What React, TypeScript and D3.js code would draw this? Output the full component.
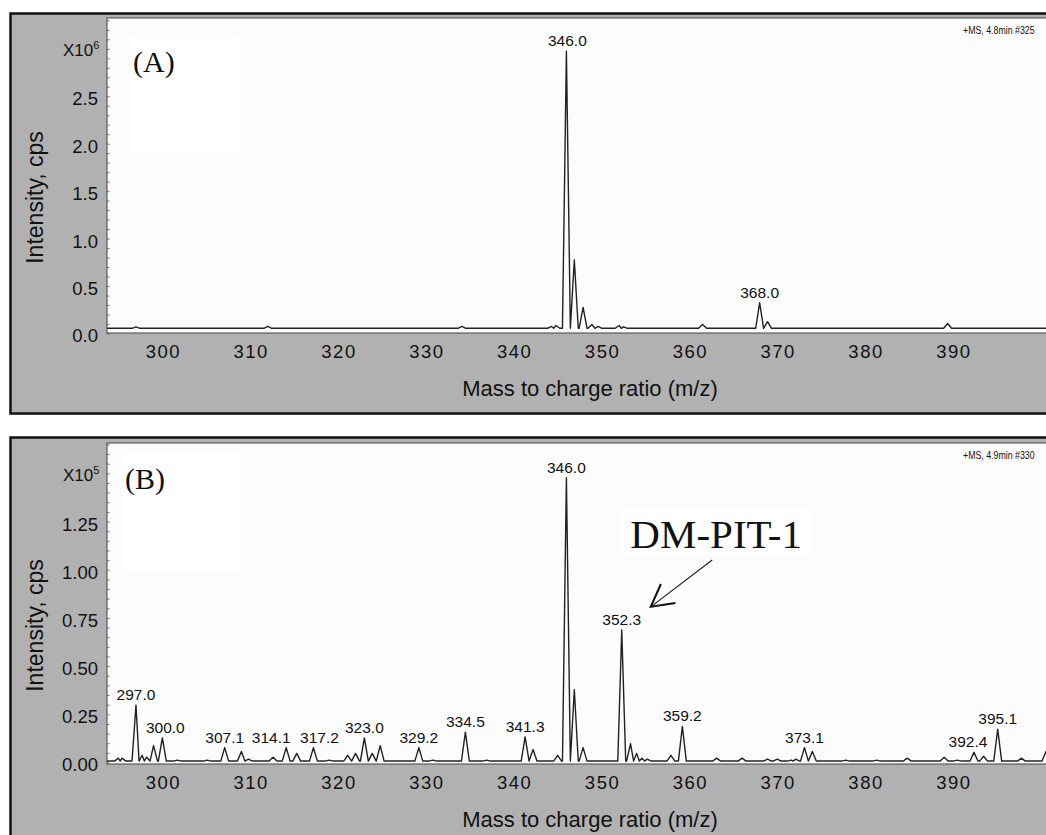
import React from 'react';
import * as d3 from 'd3';

// ---------- data ----------
const xTicks = [300, 310, 320, 330, 340, 350, 360, 370, 380, 390];
const yTicksA = [0, 0.5, 1.0, 1.5, 2.0, 2.5];
const yTicksB = [0, 0.25, 0.5, 0.75, 1.0, 1.25];

// Panel A (x10^6 cps)
const peakMzA = [297.0, 312.0, 334.1, 344.3, 344.8, 346.0, 346.9, 347.9, 348.9, 349.6, 352.0, 352.5, 361.5, 368.0, 368.9, 389.4];
const peakIntA = [0.075, 0.08, 0.08, 0.08, 0.09, 2.98, 0.78, 0.28, 0.10, 0.08, 0.09, 0.075, 0.10, 0.33, 0.13, 0.11];
const baselineA = 0.06;
const labelsA = ['346.0', '368.0'];

// Panel B (x10^5 cps)
const peakMzB = [295.0, 295.4, 297.0, 297.7, 298.2, 299.0, 300.0, 301.7, 305.1, 307.1, 309.0, 309.8, 312.6, 314.1, 315.3, 317.2, 319.0, 321.1, 322.0, 323.0, 323.9, 324.8, 329.2, 330.8, 334.5, 336.9, 341.3, 342.2, 345.0, 346.0, 346.9, 347.9, 352.3, 353.3, 354.0, 354.6, 355.2, 357.9, 359.2, 363.1, 366.0, 368.9, 370.0, 371.6, 372.1, 373.1, 374.0, 377.8, 381.3, 384.8, 389.0, 390.5, 392.4, 393.5, 395.1, 397.8, 400.6];
const peakIntB = [0.025, 0.025, 0.30, 0.04, 0.03, 0.09, 0.13, 0.015, 0.015, 0.08, 0.06, 0.02, 0.03, 0.08, 0.05, 0.08, 0.015, 0.04, 0.05, 0.13, 0.05, 0.09, 0.08, 0.015, 0.16, 0.015, 0.135, 0.07, 0.04, 1.48, 0.38, 0.08, 0.69, 0.10, 0.05, 0.025, 0.02, 0.04, 0.19, 0.025, 0.025, 0.02, 0.02, 0.015, 0.02, 0.08, 0.06, 0.015, 0.015, 0.025, 0.03, 0.015, 0.055, 0.035, 0.175, 0.025, 0.06];
const baselineB = 0.01;
const labelsB = ['297.0', '300.0', '307.1', '314.1', '317.2', '323.0', '329.2', '334.5', '341.3', '346.0', '352.3', '359.2', '373.1', '392.4', '395.1'];
const labelNudgeB = [0, 3, 0, -15, 6, 0, 0, 0, 0, 0, 0, 0, 0, -6, 0];

// ---------- layout ----------
const W = 1046;
const H = 835;
const PLOT_L = 107;
const xDomain = [293.7, 401.7];
const x = d3.scaleLinear().domain(xDomain).range([PLOT_L, PLOT_L + (xDomain[1] - xDomain[0]) * 8.784]);
const HW = 0.45;

const SANS = "'Liberation Sans', Arial, Helvetica, sans-serif";
const SERIF = "'Liberation Serif', 'Times New Roman', serif";
const NARROW = "'Liberation Sans Narrow', 'Arial Narrow', 'Liberation Sans', sans-serif";

function buildTrace(mz: number[], inten: number[], base: number): [number, number][] {
  const idx = d3.range(mz.length).sort((a, b) => mz[a] - mz[b]);
  const pts: [number, number][] = [[xDomain[0], base]];
  idx.forEach((i, k) => {
    const m = mz[i];
    const prev = k > 0 ? mz[idx[k - 1]] : -Infinity;
    const next = k < idx.length - 1 ? mz[idx[k + 1]] : Infinity;
    const hl = Math.min(HW, (m - prev) / 2);
    const hr = Math.min(HW, (next - m) / 2);
    pts.push([m - hl, base], [m, inten[i]], [m + hr, base]);
  });
  pts.push([xDomain[1], base]);
  return pts;
}

type PanelProps = {
  id: string;
  frameTop: number;
  frameH: number;
  plotTop: number;
  plotBottom: number;
  yZero: number;
  yMax: number;
  ticks: number[];
  fmt: string;
  exponent: string;
  minorStep: number;
  mz: number[];
  inten: number[];
  base: number;
  labels: string[];
  nudges: number[];
  letter: string;
  letterBox: [number, number, number, number];
  ms: string;
  yScaleRef?: (y: d3.ScaleLinear<number, number>) => React.ReactNode;
};

function Panel(p: PanelProps) {
  const y = d3.scaleLinear().domain([0, p.yMax]).range([p.yZero, p.plotTop]);
  const line = d3.line<[number, number]>().x(d => x(d[0])).y(d => y(d[1]));
  const pts = buildTrace(p.mz, p.inten, p.base);
  const f = d3.format(p.fmt);
  const minors = d3.range(0, p.yMax, p.minorStep);
  const plotRight = x.range()[1];
  return (
    <g>
      <rect x={10.5} y={p.frameTop} width={1100} height={p.frameH} fill="#b1b1b1" stroke="#111" strokeWidth={2.5} />
      <rect x={PLOT_L} y={p.plotTop} width={plotRight - PLOT_L} height={p.plotBottom - p.plotTop} fill="#fcfcfc" stroke="#444" strokeWidth={1} />
      <rect x={p.letterBox[0]} y={p.letterBox[1]} width={p.letterBox[2]} height={p.letterBox[3]} fill="#ffffff" />
      <clipPath id={p.id}>
        <rect x={PLOT_L} y={p.plotTop} width={plotRight - PLOT_L} height={p.plotBottom - p.plotTop} />
      </clipPath>
      {minors.map((v, i) => (
        <line key={i} x1={PLOT_L} x2={PLOT_L + 2.5} y1={y(v)} y2={y(v)} stroke="#555" strokeWidth={0.8} />
      ))}
      <path d={line(pts) || ''} fill="none" stroke="#222" strokeWidth={1.4} clipPath={`url(#${p.id})`} strokeLinejoin="round" />
      {p.ticks.map(v => (
        <text key={v} x={98} y={y(v) + 2} dy="0.35em" textAnchor="end" fontFamily={SANS} fontSize={18.5} fill="#111">{f(v)}</text>
      ))}
      <text x={63} y={y(p.ticks[p.ticks.length - 1] + (p.ticks[1] - p.ticks[0])) + 7} fontFamily={SANS} fontSize={17} fill="#111">
        X10<tspan fontSize={11} dy={-7}>{p.exponent}</tspan>
      </text>
      {xTicks.map(v => (
        <text key={v} x={x(v) + 1} y={p.plotBottom + 25} textAnchor="middle" fontFamily={SANS} fontSize={18.5} letterSpacing={1.5} fill="#111">{v}</text>
      ))}
      <text x={590} y={p.plotBottom + 63} textAnchor="middle" fontFamily={SANS} fontSize={22} fill="#111">Mass to charge ratio (m/z)</text>
      <text transform={`translate(43,${(p.plotTop + p.plotBottom) / 2 + 22}) rotate(-90)`} textAnchor="middle" fontFamily={SANS} fontSize={23} fill="#111">Intensity, cps</text>
      {p.labels.map((L, i) => {
        const m = +L;
        let best = 0;
        p.mz.forEach((v, j) => { if (Math.abs(v - m) < Math.abs(p.mz[best] - m)) best = j; });
        return (
          <text key={L} x={x(m) + p.nudges[i]} y={y(p.inten[best]) - 5} textAnchor="middle" fontFamily={SANS} fontSize={15.5} fill="#111">{L}</text>
        );
      })}
      <text x={p.letterBox[0] + 3} y={p.letterBox[1] + 36} fontFamily={SERIF} fontSize={30} fill="#111">{p.letter}</text>
      <text transform={`translate(963,${p.plotTop + 16}) scale(0.8,1)`} fontFamily={NARROW} fontSize={11} fill="#111">{p.ms}</text>
      {p.yScaleRef ? p.yScaleRef(y) : null}
    </g>
  );
}

function Annotation(y: d3.ScaleLinear<number, number>) {
  // annotation anchored in data coordinates of panel B
  const tip: [number, number] = [x(355.6), y(0.81)];
  const tail: [number, number] = [x(362.6), y(1.053)];
  const ang = Math.atan2(tail[1] - tip[1], tail[0] - tip[0]);
  const a = 0.5;
  const L = 25;
  const arm1: [number, number] = [tip[0] + L * Math.cos(ang - a), tip[1] + L * Math.sin(ang - a)];
  const arm2: [number, number] = [tip[0] + L * Math.cos(ang + a), tip[1] + L * Math.sin(ang + a)];
  const bx0 = x(352.1), bx1 = x(374.0);
  return (
    <g>
      <rect x={bx0} y={y(1.32)} width={bx1 - bx0} height={y(1.08) - y(1.32)} fill="#ffffff" />
      <text x={(bx0 + bx1) / 2} y={y(1.115)} textAnchor="middle" fontFamily={SERIF} fontSize={41} fill="#111">DM-PIT-1</text>
      <line x1={tail[0]} y1={tail[1]} x2={tip[0]} y2={tip[1]} stroke="#222" strokeWidth={1.2} />
      <polyline points={`${arm1[0]},${arm1[1]} ${tip[0]},${tip[1]} ${arm2[0]},${arm2[1]}`} fill="none" stroke="#111" strokeWidth={2} />
    </g>
  );
}

export default function App() {
  return (
    <div style={{ position: 'absolute', left: 0, top: 0 }}>
      <svg width={W} height={H} style={{ display: 'block', background: '#fff' }}>
        <Panel
          id="clipA" frameTop={13.5} frameH={400} plotTop={18} plotBottom={333}
          yZero={334} yMax={3.33} ticks={yTicksA} fmt=".1f" exponent="6" minorStep={0.1}
          mz={peakMzA} inten={peakIntA} base={baselineA} labels={labelsA} nudges={[1, 0]}
          letter="(A)" letterBox={[130, 36, 109, 117]} ms="+MS, 4.8min #325"
        />
        <Panel
          id="clipB" frameTop={437.5} frameH={500} plotTop={443} plotBottom={764}
          yZero={763} yMax={1.66} ticks={yTicksB} fmt=".2f" exponent="5" minorStep={0.05}
          mz={peakMzB} inten={peakIntB} base={baselineB} labels={labelsB} nudges={labelNudgeB}
          letter="(B)" letterBox={[122, 453, 123, 117]} ms="+MS, 4.9min #330"
          yScaleRef={Annotation}
        />
      </svg>
    </div>
  );
}
